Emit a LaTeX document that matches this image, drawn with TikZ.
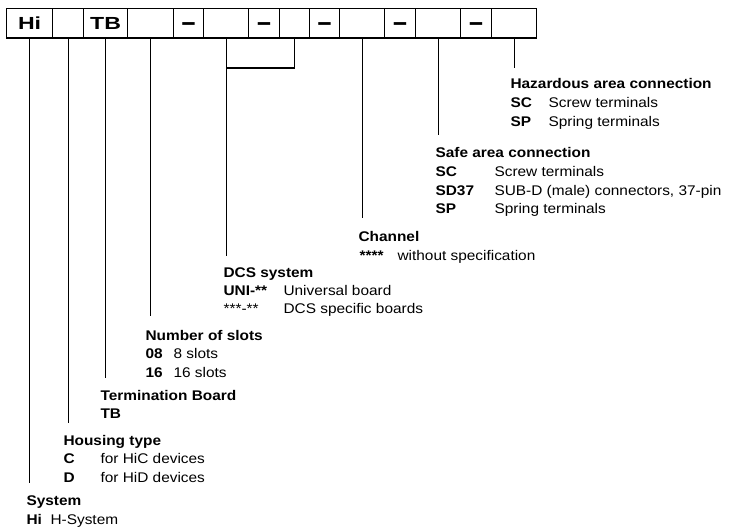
\documentclass[tikz,border=0pt]{standalone}
\usepackage{fontspec}
\setmainfont{Liberation Sans}[FakeStretch=1.1]
\begin{document}
\begin{tikzpicture}[x=1pt,y=-1pt,line width=1.1pt,
  cell/.style={draw,line width=1.1pt,minimum height=29.5pt,inner sep=0pt,anchor=north west},
  dashcell/.style={cell,text height=16pt,text depth=0pt},
  head/.style={anchor=base west,inner sep=0pt,font=\fontsize{14}{17}\selectfont\bfseries},
  key/.style={anchor=base west,inner sep=0pt,font=\fontsize{14}{17}\selectfont\bfseries},
  desc/.style={anchor=base west,inner sep=0pt,font=\fontsize{14}{17}\selectfont},
  conn/.style={line width=1.1pt}]
\newcommand\bxt[1]{\scalebox{1.2}[1]{\fontsize{17.5}{20}\selectfont\bfseries #1}}
\newcommand\bxdash{\scalebox{1.3}[1.6]{\fontsize{17.5}{20}\selectfont\bfseries –}}
\useasboundingbox (0,0) rectangle (730,527);
% code boxes
\node[cell,minimum width=46pt] (c1) at (6,8) {\bxt{Hi}};
\node[cell,minimum width=31pt] (c2) at (52,8) {};
\node[cell,minimum width=44pt] (c3) at (83,8) {\bxt{TB}};
\node[cell,minimum width=46pt] (c4) at (127,8) {};
\node[dashcell,minimum width=30pt] (c5) at (173,8) {\bxdash};
\node[cell,minimum width=45pt] (c6) at (203,8) {};
\node[dashcell,minimum width=31pt] (c7) at (248,8) {\bxdash};
\node[cell,minimum width=30pt] (c8) at (279,8) {};
\node[dashcell,minimum width=30pt] (c9) at (309,8) {\bxdash};
\node[cell,minimum width=45pt] (c10) at (339,8) {};
\node[dashcell,minimum width=31pt] (c11) at (384,8) {\bxdash};
\node[cell,minimum width=45pt] (c12) at (415,8) {};
\node[dashcell,minimum width=31pt] (c13) at (460,8) {\bxdash};
\node[cell,minimum width=45pt] (c14) at (491,8) {};
% line ends
\coordinate (eHi) at (0,483);
\coordinate (eHous) at (0,423);
\coordinate (eTB) at (0,378);
\coordinate (eSlots) at (0,316);
\coordinate (eDCS) at (0,256);
\coordinate (bk) at (0,68);
\coordinate (eCh) at (0,218);
\coordinate (eSafe) at (0,135);
\coordinate (eHaz) at (0,68);
% connectors
\draw[conn] (c1.south) -- (c1.south |- eHi);
\draw[conn] (c2.south) -- (c2.south |- eHous);
\draw[conn] (c3.south) -- (c3.south |- eTB);
\draw[conn] (c4.south) -- (c4.south |- eSlots);
\draw[conn] (c6.south) -- (c6.south |- eDCS);
\draw[conn] (c8.south) -- (c8.south |- bk) -- (c6.south |- bk);
\draw[conn] (c10.south) -- (c10.south |- eCh);
\draw[conn] (c12.south) -- (c12.south |- eSafe);
\draw[conn] (c14.south) -- (c14.south |- eHaz);
% Hazardous area connection
\node[head] (hazT) at (510,88) {Hazardous area connection};
\node[key] (hazK1) at (510,107) {SC};
\node[desc] (hazD1) at (548,107) {Screw terminals};
\node[key] (hazK2) at (510,126) {SP};
\node[desc] (hazD2) at (548,126) {Spring terminals};
% Safe area connection
\node[head] (safT) at (435,157) {Safe area connection};
\node[key] (safK1) at (435,176) {SC};
\node[desc] (safD1) at (494,176) {Screw terminals};
\node[key] (safK2) at (435,195) {SD37};
\node[desc] (safD2) at (494,195) {SUB-D (male) connectors, 37-pin};
\node[key] (safK3) at (435,213) {SP};
\node[desc] (safD3) at (494,213) {Spring terminals};
% Channel
\node[head] (chT) at (358,241) {Channel};
\node[key] (chK1) at (359,260) {****};
\node[desc] (chD1) at (397,260) {without specification};
% DCS system
\node[head] (dcsT) at (223,277) {DCS system};
\node[key] (dcsK1) at (223,295) {UNI-**};
\node[desc] (dcsD1) at (283,295) {Universal board};
\node[desc] (dcsK2) at (223,313) {***-**};
\node[desc] (dcsD2) at (283,313) {DCS specific boards};
% Number of slots
\node[head] (slT) at (145,340) {Number of slots};
\node[key] (slK1) at (145,358) {08};
\node[desc] (slD1) at (173,358) {8 slots};
\node[key] (slK2) at (145,377) {16};
\node[desc] (slD2) at (173,377) {16 slots};
% Termination Board
\node[head] (tbT) at (100,400) {Termination Board};
\node[key] (tbK1) at (100,418) {TB};
% Housing type
\node[head] (hoT) at (63,445) {Housing type};
\node[key] (hoK1) at (63,463) {C};
\node[desc] (hoD1) at (100,463) {for HiC devices};
\node[key] (hoK2) at (63,482) {D};
\node[desc] (hoD2) at (100,482) {for HiD devices};
% System
\node[head] (syT) at (26,505) {System};
\node[key] (syK1) at (26,524) {Hi};
\node[desc] (syD1) at (50,524) {H-System};
\end{tikzpicture}
\end{document}
